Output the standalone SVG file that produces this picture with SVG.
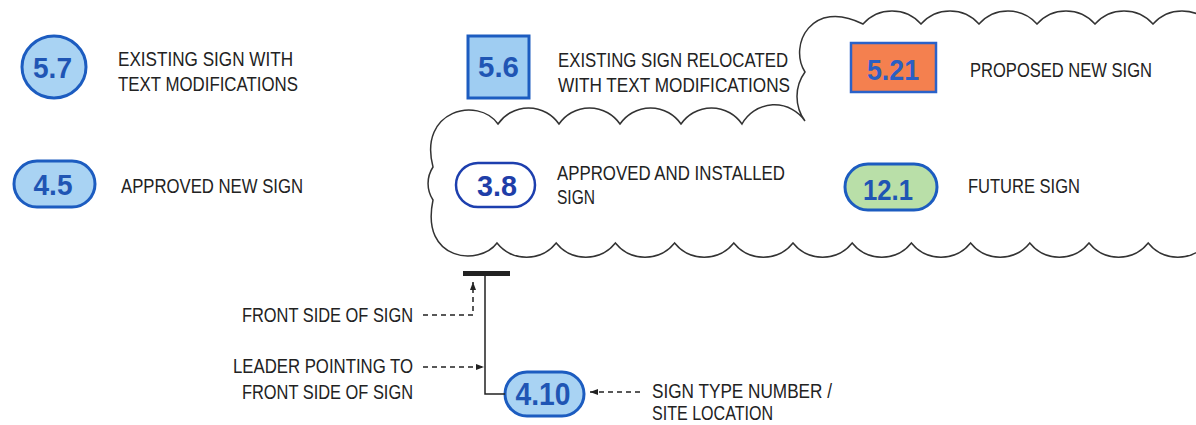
<svg xmlns="http://www.w3.org/2000/svg" width="1196" height="425" viewBox="0 0 1196 425">
<style>
.lbl{font-family:"Liberation Sans",Arial,sans-serif;font-size:20px;fill:#222}
.num{font-family:"Liberation Sans",Arial,sans-serif;font-size:30px;font-weight:bold;fill:#1f55b4;text-anchor:middle}
.blue{fill:#a9d3f3;stroke:#1c5cc0;stroke-width:3}
.cloud{fill:none;stroke:#333;stroke-width:1.5}
.lead{fill:none;stroke:#222;stroke-width:1.5}
.dash{fill:none;stroke:#222;stroke-width:1.5;stroke-dasharray:5 4}
</style>
<defs>
<marker id="ah" markerUnits="userSpaceOnUse" markerWidth="8" markerHeight="6" refX="8" refY="3" orient="auto">
<path d="M0,0 L8,3 L0,6 z" fill="#222"/>
</marker>
</defs>
<rect width="1196" height="425" fill="#fff"/>

<g id="cloud">
<path class="cloud" d="M1207.4 243 A38 38 0 0 1 1148.2 243 A38 38 0 0 1 1089 243 A38 38 0 0 1 1029.8 243 A38 38 0 0 1 970.6 243 A38 38 0 0 1 911.4 243 A38 38 0 0 1 852.2 243 A38 38 0 0 1 793 243 A38 38 0 0 1 733.8 243 A38 38 0 0 1 674.6 243 A38 38 0 0 1 615.4 243 A38 38 0 0 1 556.2 243 A38 38 0 0 1 497 243 C480 266 420 262 433 200 A30 30 0 0 1 433 167 C418 110 478 96 498 124 A37 37 0 0 1 559 124 A37 37 0 0 1 620 124 A37 37 0 0 1 681 124 A37 37 0 0 1 742 124 A37 37 0 0 1 805 121 A41.5 41.5 0 0 1 805 72 C788 45 812 -2 863 24 A38.8 38.8 0 0 1 921 24 A38.8 38.8 0 0 1 979 24 A38.8 38.8 0 0 1 1037 24 A38.8 38.8 0 0 1 1095 24 A38.8 38.8 0 0 1 1153 24 A38.8 38.8 0 0 1 1211 24"/>
</g>

<g id="n57">
<ellipse class="blue" cx="54" cy="67" rx="32" ry="31"/>
<text class="num" x="52.5" y="78" textLength="39" lengthAdjust="spacingAndGlyphs">5.7</text>
<text class="lbl" x="118" y="66" textLength="175" lengthAdjust="spacingAndGlyphs">EXISTING SIGN WITH</text>
<text class="lbl" x="118" y="91" textLength="180" lengthAdjust="spacingAndGlyphs">TEXT MODIFICATIONS</text>
</g>

<g id="n45">
<rect class="blue" x="14" y="161" width="81" height="46" rx="23"/>
<text class="num" x="53" y="195" textLength="39" lengthAdjust="spacingAndGlyphs">4.5</text>
<text class="lbl" x="121" y="193" textLength="182" lengthAdjust="spacingAndGlyphs">APPROVED NEW SIGN</text>
</g>

<g id="n56">
<rect x="468" y="36" width="61" height="62" fill="#9fcdf2" stroke="#1c5cc0" stroke-width="3"/>
<text class="num" x="498.5" y="77" textLength="41" lengthAdjust="spacingAndGlyphs">5.6</text>
<text class="lbl" x="558" y="67" textLength="230" lengthAdjust="spacingAndGlyphs">EXISTING SIGN RELOCATED</text>
<text class="lbl" x="558" y="92" textLength="232" lengthAdjust="spacingAndGlyphs">WITH TEXT MODIFICATIONS</text>
</g>

<g id="n521">
<rect x="851" y="43" width="85" height="49" fill="#f4804f" stroke="#2a62c9" stroke-width="2.5"/>
<text class="num" x="893" y="80" textLength="52" lengthAdjust="spacingAndGlyphs" style="fill:#2a5fc4">5.21</text>
<text class="lbl" x="970" y="77" textLength="182" lengthAdjust="spacingAndGlyphs">PROPOSED NEW SIGN</text>
</g>

<g id="n38">
<rect x="456" y="163" width="79" height="44" rx="22" fill="#fff" stroke="#1d3fae" stroke-width="2.5"/>
<text class="num" x="497" y="196" textLength="40" lengthAdjust="spacingAndGlyphs" style="fill:#1f3ea8">3.8</text>
<text class="lbl" x="557" y="180" textLength="228" lengthAdjust="spacingAndGlyphs">APPROVED AND INSTALLED</text>
<text class="lbl" x="557" y="204" textLength="38" lengthAdjust="spacingAndGlyphs">SIGN</text>
</g>

<g id="n121">
<rect x="845" y="164" width="92" height="46" rx="23" fill="#b9dfa8" stroke="#1c5cc0" stroke-width="3"/>
<text class="num" x="888" y="200" textLength="50" lengthAdjust="spacingAndGlyphs">12.1</text>
<text class="lbl" x="968" y="193" textLength="112" lengthAdjust="spacingAndGlyphs">FUTURE SIGN</text>
</g>

<g id="sign">
<rect x="463" y="271" width="47" height="5" fill="#222"/>
</g>

<g id="n410">
<rect class="blue" x="505" y="372" width="79" height="44" rx="22"/>
<text class="num" x="543" y="405" textLength="55" lengthAdjust="spacingAndGlyphs" style="font-size:32px">4.10</text>
</g>

<g id="labels">
<text class="lbl" x="242" y="322" textLength="171" lengthAdjust="spacingAndGlyphs">FRONT SIDE OF SIGN</text>
<text class="lbl" x="233" y="373" textLength="180" lengthAdjust="spacingAndGlyphs">LEADER POINTING TO</text>
<text class="lbl" x="242" y="399" textLength="171" lengthAdjust="spacingAndGlyphs">FRONT SIDE OF SIGN</text>
<text class="lbl" x="652" y="398" textLength="180" lengthAdjust="spacingAndGlyphs">SIGN TYPE NUMBER /</text>
<text class="lbl" x="652" y="420" textLength="121" lengthAdjust="spacingAndGlyphs">SITE LOCATION</text>
</g>

<g id="connectors">
<path class="lead" d="M485 276 L485 394 L505 394"/>
<path class="dash" d="M423 315 L473 315 L473 282" marker-end="url(#ah)"/>
<path class="dash" d="M423 367 L484 367" marker-end="url(#ah)"/>
<path class="dash" d="M640 392 L590 392" marker-end="url(#ah)"/>
</g>
</svg>
